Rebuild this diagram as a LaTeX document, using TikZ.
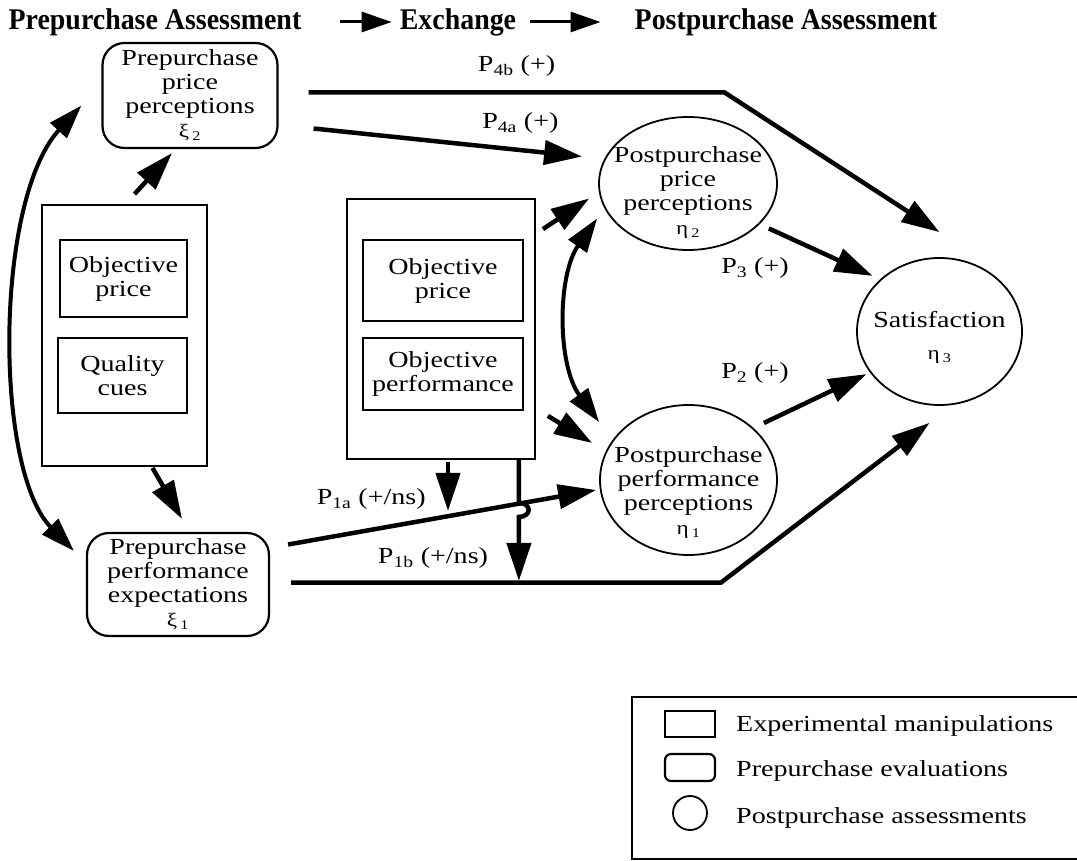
\documentclass[tikz,border=0pt]{standalone}
\usepackage{fontspec}
\setmainfont{Liberation Serif}[FakeStretch=1.22]
\newfontfamily\headfont{Liberation Serif}[FakeStretch=0.93]
\usetikzlibrary{arrows.meta,shapes.geometric}
\newcommand\gk[2]{{\fontsize{19}{19}\selectfont #1\,\textsubscript{#2}}}

\begin{document}
\begin{tikzpicture}[x=1pt,y=-1pt,
    every node/.style={font=\fontsize{23}{24}\selectfont,align=center,inner sep=0pt},
    head/.style={font=\headfont\bfseries\fontsize{30}{30}\selectfont},
    manip/.style={draw,line width=1.8pt},
    pre/.style={draw,rounded corners=22pt,line width=2.2pt},
    post/.style={draw,ellipse,line width=1.8pt,inner sep=-30pt},
    thk/.style={line width=4.5pt,-{Triangle[length=38pt,width=24pt]}},
    both/.style={line width=4pt,{Triangle[length=34pt,width=22pt]}-{Triangle[length=34pt,width=22pt]}},
    harr/.style={line width=3pt,-{Triangle[length=30pt,width=20pt]}}]
  \useasboundingbox (0,0) rectangle (1077,861);

  \node[head] (t1) at (155,22) {Prepurchase Assessment};
  \node[head] (t2) at (458,22) {Exchange};
  \node[head] (t3) at (786,22) {Postpurchase Assessment};
  \draw[harr,shorten <=38pt,shorten >=8pt] (t1) -- (t2);
  \draw[harr,shorten <=14pt,shorten >=34pt] (t2) -- (t3);

  \node[pre,minimum width=175pt,minimum height=105pt] (pp) at (190,95.5) {Prepurchase\\price\\perceptions\\\gk{ξ}{2}};
  \node[pre,minimum width=182pt,minimum height=103pt] (pe) at (178,584.5) {Prepurchase\\performance\\expectations\\\gk{ξ}{1}};
  \node[manip,minimum width=165pt,minimum height=261pt] (lb) at (124.5,335.5) {};
  \node[manip,minimum width=127pt,minimum height=77pt] (lb1) at (123.5,278.5) {Objective\\price};
  \node[manip,minimum width=129pt,minimum height=75pt] (lb2) at (122.5,375.5) {Quality\\cues};
  \node[manip,minimum width=188pt,minimum height=260pt] (mb) at (441,329) {};
  \node[manip,minimum width=160pt,minimum height=81pt] (mb1) at (443,280.5) {Objective\\price};
  \node[manip,minimum width=160pt,minimum height=72pt] (mb2) at (443,374) {Objective\\performance};
  \node[post,minimum width=178pt,minimum height=133pt,
    label={[name=c2t,yshift=-9pt]center:{Postpurchase\\price\\perceptions\\\gk{η}{2}}}] (c2) at (688,183.5) {};
  \node[post,minimum width=177pt,minimum height=150pt,
    label={[name=c1t,yshift=-13pt]center:{Postpurchase\\performance\\perceptions\\\gk{η}{1}}}] (c1) at (688.5,480) {};
  \node[post,minimum width=165pt,minimum height=147pt,
    label={[name=c3t,yshift=-6pt]center:{Satisfaction\\[8pt]\gk{η}{3}}}] (c3) at (939.5,331.5) {};

  \draw[thk] ([shift={(30,-3)}]pp.east) -- node[above=14pt] (l4b) {P\textsubscript{4b} (+)} ++(416,0) -- ([shift={(0,-25)}]c3.north);
  \draw[thk] ([shift={(35,33)}]pp.east) -- node[pos=.77,above=14pt] (l4a) {P\textsubscript{4a} (+)} ([shift={(-16,-27)}]c2.west);
  \draw[thk] ([shift={(10,-10)}]lb.north) -- ([shift={(-18,4)}]pp.south);
  \draw[thk] ([shift={(28,1)}]lb.south) -- ([shift={(4,-13)}]pe.north);
  \draw[both] ([shift={(-12,19)}]pe.north west) .. controls +(-80,-82) and +(-87,95) .. ([shift={(-20,10)}]pp.west);
  \draw[thk] ([shift={(7,31)}]mb.north east) -- ([shift={(-9,15)}]c2.west);
  \draw[thk] ([shift={(12,-44)}]mb.south east) -- ([shift={(-7,-37)}]c1.west);
  \draw[both] ([shift={(-1,35)}]c2.west) .. controls +(-40,57) and +(-42,-57) .. ([shift={(0,-58)}]c1.west);
  \draw[thk] ([shift={(7,2)}]mb.south) -- ([shift={(7,51)}]mb.south);
  \draw[thk] ([shift={(18,-40)}]pe.east) -- node[pos=.27,above=18pt] (l1a) {P\textsubscript{1a} (+/ns)} ([shift={(-3,10)}]c1.west);
  \draw[thk] ([shift={(-17,0)}]mb.south east) -- ++(0,43) .. controls +(13,0) and +(13,0) .. ++(0,14) -- ++(0,64);
  \draw[thk] ([shift={(21,-2)}]pe.east) -- node[pos=.33,above=12pt] (l1b) {P\textsubscript{1b} (+/ns)} ++(430,0) -- ([shift={(-10,17)}]c3.south);
  \draw[thk] ([shift={(-9,45)}]c2.east) -- ([shift={(-8,-3)}]c3.north west);
  \draw[thk] ([shift={(-14,-57)}]c1.east) -- ([shift={(-14,-10)}]c3.south west);
  \node (l3) at (755,268) {P\textsubscript{3} (+)};
  \node (l2) at (755,373) {P\textsubscript{2} (+)};

  \draw[line width=1.5pt] (1077,697) -- (632,697) -- (632,859) -- (1077,859);
  \node[manip,minimum width=50pt,minimum height=26pt] (k1) at (690,724) {};
  \node[pre,rounded corners=6pt,minimum width=50pt,minimum height=27pt] (k2) at (690,767.5) {};
  \node[draw,circle,line width=1.8pt,minimum size=34pt] (k3) at (690,813) {};
  \node[anchor=west] (e1) at (736,726) {Experimental manipulations};
  \node[anchor=west] (e2) at (736,771) {Prepurchase evaluations};
  \node[anchor=west] (e3) at (736,818) {Postpurchase assessments};
\end{tikzpicture}
\end{document}
